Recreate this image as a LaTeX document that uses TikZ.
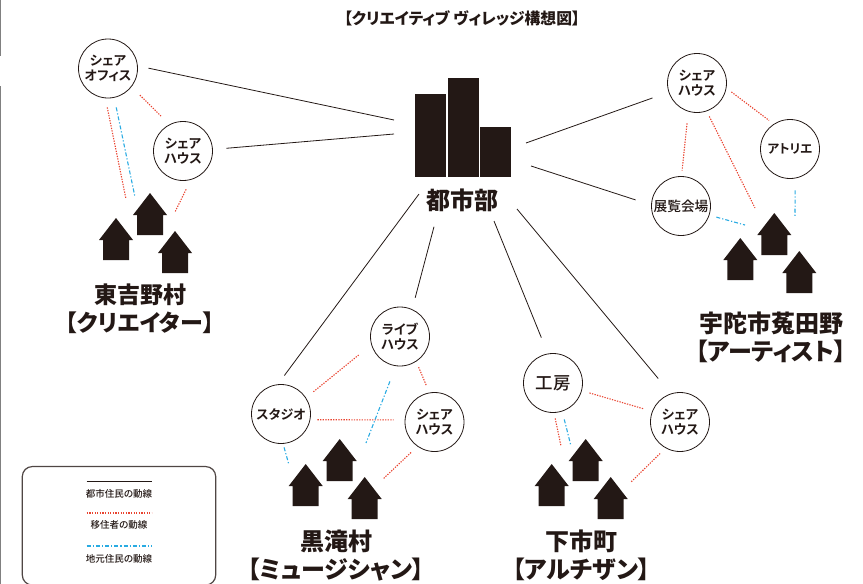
\documentclass[tikz,border=0pt]{standalone}
\usepackage{fontspec}
\setmainfont{Noto Sans CJK JP}[BoldFont={Noto Sans CJK JP Bold},RawFeature=+palt]
\newfontfamily\heavyfont{Noto Sans CJK JP Black}[RawFeature=+palt]
\newfontfamily\midfont{Noto Sans CJK JP Medium}[RawFeature=+palt]
\usepackage{tikz}
\definecolor{inkblack}{HTML}{231815}
\definecolor{walkred}{HTML}{E9432F}
\definecolor{walkblue}{HTML}{29ABE2}
\tikzset{
    place/.style={draw=inkblack, line width=0.8pt, circle, fill=white, minimum size=59pt, inner sep=0pt, align=center, font=\bfseries\fontsize{13.2}{15}\selectfont, text=inkblack},
    tower/.style={fill=inkblack, inner sep=0pt, anchor=south west},
    bigtext/.style={align=center, font=\heavyfont\fontsize{24}{28.5}\selectfont, text=inkblack},
    keytext/.style={font=\midfont\fontsize{9.5}{11}\selectfont, text=inkblack},
    citywalk/.style={draw=inkblack, line width=0.8pt},
    moverwalk/.style={draw=walkred, line width=1.1pt, dash pattern=on 1.3pt off 1.3pt},
    localwalk/.style={draw=walkblue, line width=1.1pt, dash pattern=on 4pt off 2pt on 1.2pt off 2pt}
}
% three houses, #1/#2 is the tip of the top one
\def\hamlet#1#2{%
    \foreach \hx/\hy in {0/0, -34/25, 25/38}
    {
        \fill[inkblack] (#1+\hx,#2+\hy) -- ++(17,22) -- ++(-4,0) -- ++(0,20) -- ++(-26,0) -- ++(0,-20) -- ++(-4,0) -- cycle;
    }
}
\begin{document}
\begin{tikzpicture}[x=1pt, y=-1pt]
    \useasboundingbox (0,0) rectangle (863,584);

    % edge of the page
    \draw[gray, line width=1.5pt] (0.5,0) -- (0.5,55.7);
    \draw[gray, line width=1.5pt] (0.5,86) -- (0.5,584);

    \node[font=\heavyfont\fontsize{15.8}{17}\selectfont, text=inkblack] (title) at (462,18) {【クリエイティブ ヴィレッジ構想図】};

    % city
    \node[tower, minimum width=31.3pt, minimum height=83pt] (bar1) at (414.7,177) {};
    \node[tower, minimum width=31.3pt, minimum height=99.3pt] (bar2) at (447.7,177) {};
    \node[tower, minimum width=31pt, minimum height=50pt] (bar3) at (480,177) {};
    \node[bigtext] (city) at (462,200) {都市部};

    % places
    \node[place] (office) at (108,68.5) {シェア\\オフィス};
    \node[place] (shareA) at (183,151) {シェア\\ハウス};
    \node[place] (shareB) at (697,83) {シェア\\ハウス};
    \node[place, font=\bfseries\fontsize{12.5}{15}\selectfont] (atelier) at (790,149) {アトリエ};
    \node[place, font=\midfont\fontsize{13.7}{15}\selectfont] (expo) at (681,206) {展覧会場};
    \node[place] (live) at (400,336.5) {ライブ\\ハウス};
    \node[place, font=\bfseries\fontsize{13}{15}\selectfont] (studio) at (281,414) {スタジオ};
    \node[place] (shareC) at (434.5,422) {シェア\\ハウス};
    \node[place, font=\midfont\fontsize{17.5}{19}\selectfont] (kobo) at (553,383) {工房};
    \node[place] (shareD) at (680,422) {シェア\\ハウス};

    % houses
    \hamlet{150}{193}
    \hamlet{339.7}{439}
    \hamlet{585.7}{439}
    \hamlet{774.3}{213}

    % village names
    \node[bigtext, font=\heavyfont\fontsize{23}{28.5}\selectfont] (higashi) at (140,309) {東吉野村\\【クリエイター】};
    \node[bigtext] (uda) at (771,337.5) {宇陀市菟田野\\【アーティスト】};
    \node[bigtext] (kuro) at (336,555.5) {黒滝村\\【ミュージシャン】};
    \node[bigtext] (shimo) at (581.5,555.5) {下市町\\【アルチザン】};

    % free ends at the city
    \coordinate (c1) at (394,120);
    \coordinate (c2) at (394,134);
    \coordinate (c3) at (526,143);
    \coordinate (c4) at (531,166);
    \coordinate (c5) at (419,194);
    \coordinate (c6) at (434,226.7);
    \coordinate (c7) at (494,221);
    \coordinate (c8) at (517,209);

    % free ends at the houses
    \coordinate (h1) at (126,199);
    \coordinate (h2) at (135,197);
    \coordinate (h3) at (175,212);
    \coordinate (h4) at (755,208);
    \coordinate (h5) at (745,225);
    \coordinate (h6) at (795,216);
    \coordinate (h7) at (366,443);
    \coordinate (h8) at (289,465);
    \coordinate (h9) at (383,479);
    \coordinate (h10) at (561,446);
    \coordinate (h11) at (571,446);
    \coordinate (h12) at (631,482);

    % lines to the city
    \foreach \from/\to/\gap in {
        office.5.4/c1/10.9,
        shareA.3.6/c2/13.6,
        shareB.198.4/c3/17,
        expo.178/c4/16.3,
        studio.96.8/c5/10.9,
        live.66/c6/11.7,
        kobo.100.9/c7/17.2,
        shareD.108.8/c8/19.6}{

        \draw[citywalk, shorten <=\gap pt] (\from) -- (\to);
    }

    % lines of the movers
    \foreach \from/\to/\gap/\gapb in {
        office.-38/shareA.117.6/11.7/11.8,
        office.-95.6/h1/9.3/0,
        shareA.-75.3/h3/10.5/0,
        shareB.-10.1/atelier.123.8/6.2/5.8,
        shareB.-107.3/expo.89/11.9/5.5,
        shareB.-71.2/h4/5.7/0,
        studio.33.1/live.196.3/9.4/16.3,
        studio.-11.7/shareC.176.1/7.1/11.1,
        live.-57.9/shareC.100.9/6/7.6,
        shareC.-125.6/h9/8.7/0,
        kobo.-15.4/shareD.159.2/7.9/8.8,
        kobo.-88.4/h10/5.7/0,
        shareD.-119.7/h12/7.6/0}{

        \draw[moverwalk, shorten <=\gap pt, shorten >=\gapb pt] (\from) -- (\to);
    }

    % lines of the locals
    \foreach \from/\to/\gap in {
        office.-78.3/h2/9.9,
        expo.-18/h5/7.2,
        atelier.-80.2/h6/11.9,
        live.-98/h7/16.4,
        studio.-86.1/h8/3.7,
        kobo.-72.2/h11/8.2}{

        \draw[localwalk, shorten <=\gap pt] (\from) -- (\to);
    }

    % legend
    \node[draw=inkblack!80, line width=1.2pt, rounded corners=10pt, minimum width=193.4pt, minimum height=118.5pt, inner sep=0pt] (legend) at (119,525.8) {};
    \coordinate (k1a) at (86.7,481);
    \coordinate (k1b) at (151.7,481);
    \coordinate (k2a) at (86.7,513);
    \coordinate (k2b) at (151.7,513);
    \coordinate (k3a) at (86.7,546);
    \coordinate (k3b) at (151.7,546);
    \foreach \keya/\keyb/\walk in {k1a/k1b/citywalk, k2a/k2b/moverwalk, k3a/k3b/localwalk}{
        \draw[\walk] (\keya) -- (\keyb);
    }
    \node[keytext] (k1) at (119,494) {都市住民の動線};
    \node[keytext] (k2) at (119,524.5) {移住者の動線};
    \node[keytext] (k3) at (119,559) {地元住民の動線};
\end{tikzpicture}
\end{document}
